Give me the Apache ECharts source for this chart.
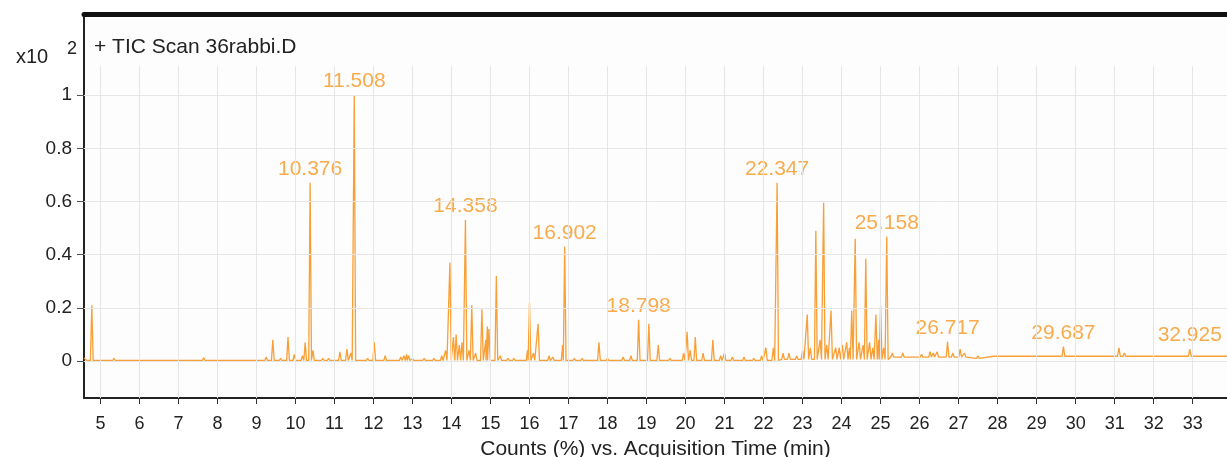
<!DOCTYPE html>
<html><head><meta charset="utf-8">
<script src="https://cdn.jsdelivr.net/npm/echarts@6/dist/echarts.min.js"></script>
<style>html,body{margin:0;padding:0;background:#fff}#c{width:1227px;height:457px}</style>
</head><body><div id="c"></div>
<script>
// ---- data ----
const xTicks = [5,6,7,8,9,10,11,12,13,14,15,16,17,18,19,20,21,22,23,24,25,26,27,28,29,30,31,32,33];
const yTicks = [0,0.2,0.4,0.6,0.8,1];
// baseline level (step breakpoints)
const baseT = [4.58,4.65,22.5,25.3,27.5,27.9,33.88];
const baseV = [0.012,0.002,0.006,0.015,0.010,0.018,0.018];
// peak apex times (min) and heights (x10^2 %)
const peakT = [4.78,5.35,5.8,6.3,6.55,7.65,7.85,8.3,8.45,8.6,9.25,9.42,9.62,9.81,9.97,10.18,10.25,10.376,10.45,10.7,10.85,11.14,11.32,11.42,11.508,11.85,12.02,12.3,12.55,12.7,12.78,12.85,12.9,13.0,13.3,13.55,13.75,13.85,13.96,14.05,14.12,14.2,14.27,14.358,14.45,14.52,14.62,14.78,14.88,14.92,14.96,15.15,15.25,15.45,15.6,15.95,16.0,16.1,16.22,16.5,16.6,16.85,16.902,17.15,17.35,17.78,18.0,18.4,18.6,18.798,19.06,19.3,19.6,19.95,20.04,20.12,20.25,20.45,20.7,20.9,21.0,21.2,21.5,21.75,21.95,22.06,22.25,22.347,22.5,22.65,22.85,23.0,23.12,23.2,23.34,23.45,23.54,23.62,23.73,23.85,23.94,24.02,24.13,24.2,24.26,24.35,24.45,24.55,24.62,24.72,24.8,24.88,24.95,25.0,25.08,25.158,25.3,25.57,25.8,26.05,26.27,26.35,26.45,26.717,26.85,27.04,27.15,27.5,28.1,28.3,28.7,29.0,29.3,29.45,29.687,30.0,30.3,30.6,31.11,31.25,31.9,32.925,33.7];
const peakH = [0.21,0.01,0.008,0.008,0.006,0.012,0.008,0.008,0.007,0.007,0.015,0.08,0.01,0.09,0.025,0.02,0.07,0.67,0.04,0.01,0.01,0.035,0.045,0.03,1.0,0.01,0.07,0.02,0.008,0.015,0.02,0.025,0.02,0.01,0.01,0.01,0.02,0.04,0.37,0.09,0.1,0.06,0.07,0.53,0.04,0.21,0.03,0.195,0.08,0.13,0.12,0.32,0.02,0.01,0.01,0.04,0.22,0.03,0.14,0.02,0.015,0.06,0.43,0.01,0.01,0.07,0.01,0.015,0.02,0.155,0.14,0.06,0.01,0.03,0.11,0.04,0.09,0.03,0.08,0.02,0.03,0.015,0.015,0.01,0.02,0.05,0.05,0.67,0.03,0.03,0.02,0.04,0.175,0.05,0.49,0.08,0.595,0.06,0.19,0.05,0.05,0.06,0.07,0.05,0.19,0.46,0.07,0.06,0.385,0.07,0.05,0.175,0.08,0.21,0.05,0.467,0.03,0.03,0.02,0.025,0.035,0.03,0.035,0.072,0.03,0.045,0.03,0.02,0.025,0.025,0.022,0.025,0.025,0.025,0.054,0.025,0.022,0.022,0.05,0.03,0.02,0.045,0.022];
// labelled peaks
const labelT = ["10.376","11.508","14.358","16.902","18.798","22.347","25.158","26.717","29.687","32.925"];
const labelH = [0.67,1.0,0.53,0.43,0.155,0.67,0.467,0.072,0.054,0.045];

const HALF = 0.035;
function baseAt(t){ let v = baseV[0]; for(let i=0;i<baseT.length;i++){ if(baseT[i]<=t) v = baseV[i]; } return v; }
const pts = [];
baseT.forEach((t,i)=>pts.push([t, baseV[i]]));
peakT.forEach((t,i)=>{ const b = baseAt(t); pts.push([t-HALF,b],[t,peakH[i]],[t+HALF,b]); });
pts.sort((a,b)=>a[0]-b[0]);

const YMIN=-0.139, YMAX=1.305, XMIN=4.58, XMAX=33.88, GTOP=1.109;
const vGrid = xTicks.map(t=>[{coord:[t,GTOP]},{coord:[t,YMIN]}]);
const hGrid = yTicks.map(v=>[{coord:[XMIN,v]},{coord:[XMAX,v]}]);

const chart = echarts.init(document.getElementById('c'), null, {renderer:'canvas'});
const FONT = 'Liberation Sans, Arial, sans-serif';
chart.setOption({
  animation:false,
  backgroundColor:'#fff',
  textStyle:{fontFamily:FONT},
  title:[
    {text:'+ TIC Scan 36rabbi.D', left:89, top:32, textStyle:{fontSize:21, fontWeight:'normal', color:'#222', fontFamily:FONT}},
    {text:'x10', left:11, top:42, textStyle:{fontSize:20, fontWeight:'normal', color:'#222', fontFamily:FONT}},
    {text:'2', left:62, top:35, textStyle:{fontSize:18, fontWeight:'normal', color:'#222', fontFamily:FONT}}
  ],
  grid:{left:84, right:0, top:14, bottom:59, show:true, backgroundColor:'#fdfdfd', borderWidth:0, containLabel:false, outerBoundsMode:'none'},
  xAxis:[{
    type:'value', min:XMIN, max:XMAX, position:'bottom',
    axisLine:{show:true, onZero:false, lineStyle:{color:'#222', width:2}},
    axisTick:{show:true, customValues:xTicks, length:6, lineStyle:{color:'#333'}},
    axisLabel:{show:true, customValues:xTicks, fontSize:18, color:'#222', margin:17, fontFamily:FONT},
    splitLine:{show:false},
    name:'Counts (%) vs. Acquisition Time (min)', nameLocation:'middle', nameGap:41,
    nameTextStyle:{fontSize:21, color:'#222', fontFamily:FONT}
  },{
    type:'value', min:XMIN, max:XMAX, position:'top',
    axisLine:{show:true, onZero:false, lineStyle:{color:'#111', width:5}},
    axisTick:{show:false}, axisLabel:{show:false}, splitLine:{show:false}
  }],
  yAxis:{
    type:'value', min:YMIN, max:YMAX,
    axisLine:{show:true, onZero:false, lineStyle:{color:'#222', width:2}},
    axisTick:{show:true, customValues:yTicks, length:7, lineStyle:{color:'#555'}},
    axisLabel:{show:true, customValues:yTicks, fontSize:19, color:'#222', margin:12, fontFamily:FONT},
    splitLine:{show:false}
  },
  series:[
    {type:'line', data:[], silent:true, z:1,
     markLine:{silent:true, symbol:'none', label:{show:false}, animation:false,
       lineStyle:{color:'#e6e6e6', width:1, type:'solid'}, data:vGrid.concat(hGrid)}},
    {type:'line', data:pts, showSymbol:false, symbol:'none', z:3,
     lineStyle:{color:'#f89f35', width:1.3}, clip:true},
    {type:'scatter', data:labelT.map((t,i)=>[parseFloat(t), labelH[i], t]), symbolSize:0, z:4, clip:false,
     label:{show:true, position:'top', distance:3, formatter:p=>p.data[2], fontSize:21, color:'#f7961f', fontFamily:FONT}}
  ]
});
</script></body></html>
